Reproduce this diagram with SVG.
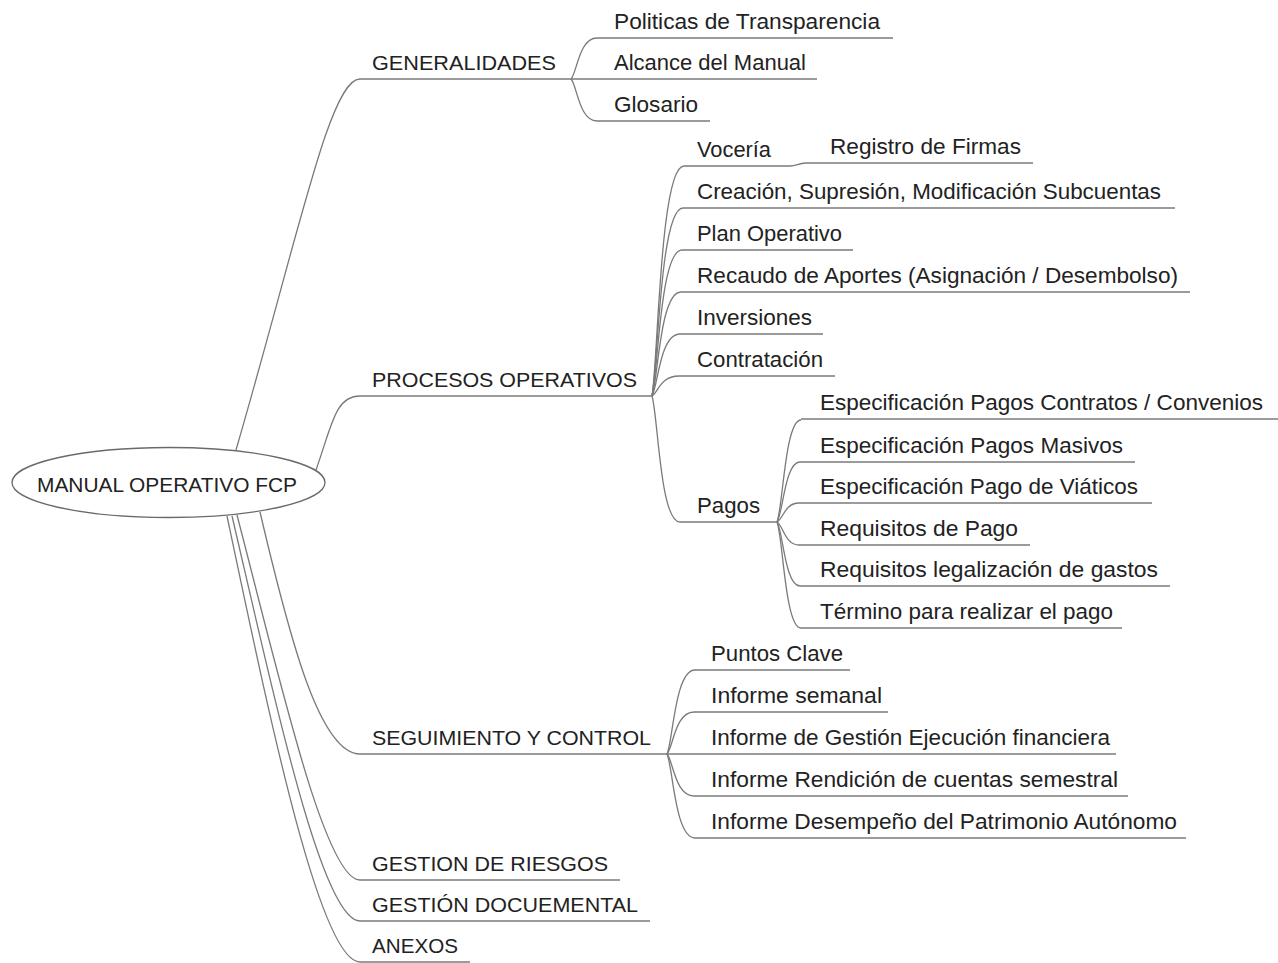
<svg xmlns="http://www.w3.org/2000/svg" width="1278" height="963" viewBox="0 0 1278 963">
<style>
text{font-family:"Liberation Sans",Arial,sans-serif;fill:#222;}
.c{font-size:21px;}
.m{font-size:22px;}
.u,.k{stroke:#7a7a7a;stroke-width:1.3;fill:none;}
</style>
<rect width="1278" height="963" fill="#fff"/>
<g id="connectors">
<path class="k" d="M236,450 C300,230 330,79 360,79"/>
<path class="k" d="M316,470 C332,425 335,396 360,396"/>
<path class="k" d="M260,512 C290,640 320,754 360,754"/>
<path class="k" d="M237,515 C280,680 325,880 360,880"/>
<path class="k" d="M232,516 C275,700 322,921 360,921"/>
<path class="k" d="M227,516 C270,720 320,962 360,962"/>
<path class="k" d="M571,79 C577,73 579,38 597,38"/>
<path class="k" d="M571,79 C577,85 579,121 597,121"/>
<path class="k" d="M652,396 C658,362 660,166 684,166"/>
<path class="k" d="M652,396 C658,368 660,208 683,208"/>
<path class="k" d="M652,396 C658,374 660,250 682,250"/>
<path class="k" d="M652,396 C658,380 660,292 681,292"/>
<path class="k" d="M652,396 C658,386 660,334 680,334"/>
<path class="k" d="M652,396 C658,393 660,376 679,376"/>
<path class="k" d="M652,396 C658,415 660,522 680,522"/>
<path class="k" d="M790,166 C797,166 798,163 806,163"/>
<path class="k" d="M777,522 C783,507 785,420 801,420"/>
<path class="k" d="M777,522 C783,513 785,462 800,462"/>
<path class="k" d="M777,522 C783,519 785,503 799,503"/>
<path class="k" d="M777,522 C783,525 785,545 799,545"/>
<path class="k" d="M777,522 C783,531 785,586 800,586"/>
<path class="k" d="M777,522 C783,537 785,628 801,628"/>
<path class="k" d="M667,754 C673,741 675,670 695,670"/>
<path class="k" d="M667,754 C673,748 675,712 694,712"/>
<path class="k" d="M667,754 C673,760 675,796 694,796"/>
<path class="k" d="M667,754 C673,767 675,838 695,838"/>
</g>
<g id="root">
<ellipse cx="168.5" cy="482.5" rx="156.5" ry="35" fill="#fff" stroke="#6a6a6a" stroke-width="1.3"/>
<text class="c" x="37" y="492" textLength="260" lengthAdjust="spacingAndGlyphs">MANUAL OPERATIVO FCP</text>
</g>
<g id="generalidades"><line class="u" x1="360" y1="79" x2="571" y2="79"/><text class="c" x="372" y="70" textLength="184" lengthAdjust="spacingAndGlyphs">GENERALIDADES</text></g>
<g id="politicas"><line class="u" x1="597" y1="38" x2="893" y2="38"/><text class="m" x="614" y="29" textLength="266" lengthAdjust="spacingAndGlyphs">Politicas de Transparencia</text></g>
<g id="alcance"><line class="u" x1="571" y1="79" x2="817" y2="79"/><text class="m" x="614" y="70" textLength="192" lengthAdjust="spacingAndGlyphs">Alcance del Manual</text></g>
<g id="glosario"><line class="u" x1="597" y1="121" x2="710" y2="121"/><text class="m" x="614" y="112" textLength="84" lengthAdjust="spacingAndGlyphs">Glosario</text></g>
<g id="procesos"><line class="u" x1="360" y1="396" x2="652" y2="396"/><text class="c" x="372" y="387" textLength="265" lengthAdjust="spacingAndGlyphs">PROCESOS OPERATIVOS</text></g>
<g id="voceria"><line class="u" x1="684" y1="166" x2="790" y2="166"/><text class="m" x="697" y="157" textLength="74" lengthAdjust="spacingAndGlyphs">Vocería</text></g>
<g id="registro"><line class="u" x1="806" y1="163" x2="1033" y2="163"/><text class="m" x="830" y="154" textLength="191" lengthAdjust="spacingAndGlyphs">Registro de Firmas</text></g>
<g id="creacion"><line class="u" x1="683" y1="208" x2="1175" y2="208"/><text class="m" x="697" y="199" textLength="464" lengthAdjust="spacingAndGlyphs">Creación, Supresión, Modificación Subcuentas</text></g>
<g id="plan"><line class="u" x1="682" y1="250" x2="853" y2="250"/><text class="m" x="697" y="241" textLength="145" lengthAdjust="spacingAndGlyphs">Plan Operativo</text></g>
<g id="recaudo"><line class="u" x1="681" y1="292" x2="1190" y2="292"/><text class="m" x="697" y="283" textLength="481" lengthAdjust="spacingAndGlyphs">Recaudo de Aportes (Asignación / Desembolso)</text></g>
<g id="inversiones"><line class="u" x1="680" y1="334" x2="823" y2="334"/><text class="m" x="697" y="325" textLength="115" lengthAdjust="spacingAndGlyphs">Inversiones</text></g>
<g id="contratacion"><line class="u" x1="679" y1="376" x2="835" y2="376"/><text class="m" x="697" y="367" textLength="126" lengthAdjust="spacingAndGlyphs">Contratación</text></g>
<g id="pagos"><line class="u" x1="680" y1="522" x2="777" y2="522"/><text class="m" x="697" y="513" textLength="63" lengthAdjust="spacingAndGlyphs">Pagos</text></g>
<g id="pago-contratos"><line class="u" x1="801" y1="419" x2="1278" y2="419"/><text class="m" x="820" y="410" textLength="443" lengthAdjust="spacingAndGlyphs">Especificación Pagos Contratos / Convenios</text></g>
<g id="pago-masivos"><line class="u" x1="800" y1="462" x2="1135" y2="462"/><text class="m" x="820" y="453" textLength="303" lengthAdjust="spacingAndGlyphs">Especificación Pagos Masivos</text></g>
<g id="pago-viaticos"><line class="u" x1="799" y1="503" x2="1152" y2="503"/><text class="m" x="820" y="494" textLength="318" lengthAdjust="spacingAndGlyphs">Especificación Pago de Viáticos</text></g>
<g id="req-pago"><line class="u" x1="799" y1="545" x2="1030" y2="545"/><text class="m" x="820" y="536" textLength="198" lengthAdjust="spacingAndGlyphs">Requisitos de Pago</text></g>
<g id="req-legal"><line class="u" x1="800" y1="586" x2="1170" y2="586"/><text class="m" x="820" y="577" textLength="338" lengthAdjust="spacingAndGlyphs">Requisitos legalización de gastos</text></g>
<g id="termino"><line class="u" x1="801" y1="628" x2="1122" y2="628"/><text class="m" x="820" y="619" textLength="293" lengthAdjust="spacingAndGlyphs">Término para realizar el pago</text></g>
<g id="seguimiento"><line class="u" x1="360" y1="754" x2="667" y2="754"/><text class="c" x="372" y="745" textLength="279" lengthAdjust="spacingAndGlyphs">SEGUIMIENTO Y CONTROL</text></g>
<g id="puntos"><line class="u" x1="695" y1="670" x2="850" y2="670"/><text class="m" x="711" y="661" textLength="132" lengthAdjust="spacingAndGlyphs">Puntos Clave</text></g>
<g id="semanal"><line class="u" x1="694" y1="712" x2="888" y2="712"/><text class="m" x="711" y="703" textLength="171" lengthAdjust="spacingAndGlyphs">Informe semanal</text></g>
<g id="gestion-ejec"><line class="u" x1="667" y1="754" x2="1116" y2="754"/><text class="m" x="711" y="745" textLength="399" lengthAdjust="spacingAndGlyphs">Informe de Gestión Ejecución financiera</text></g>
<g id="rendicion"><line class="u" x1="694" y1="796" x2="1128" y2="796"/><text class="m" x="711" y="787" textLength="407" lengthAdjust="spacingAndGlyphs">Informe Rendición de cuentas semestral</text></g>
<g id="desempeno"><line class="u" x1="695" y1="838" x2="1186" y2="838"/><text class="m" x="711" y="829" textLength="466" lengthAdjust="spacingAndGlyphs">Informe Desempeño del Patrimonio Autónomo</text></g>
<g id="riesgos"><line class="u" x1="360" y1="880" x2="620" y2="880"/><text class="c" x="372" y="871" textLength="236" lengthAdjust="spacingAndGlyphs">GESTION DE RIESGOS</text></g>
<g id="documental"><line class="u" x1="360" y1="921" x2="650" y2="921"/><text class="c" x="372" y="912" textLength="266" lengthAdjust="spacingAndGlyphs">GESTIÓN DOCUEMENTAL</text></g>
<g id="anexos"><line class="u" x1="360" y1="962" x2="470" y2="962"/><text class="c" x="372" y="953" textLength="86" lengthAdjust="spacingAndGlyphs">ANEXOS</text></g>
</svg>
